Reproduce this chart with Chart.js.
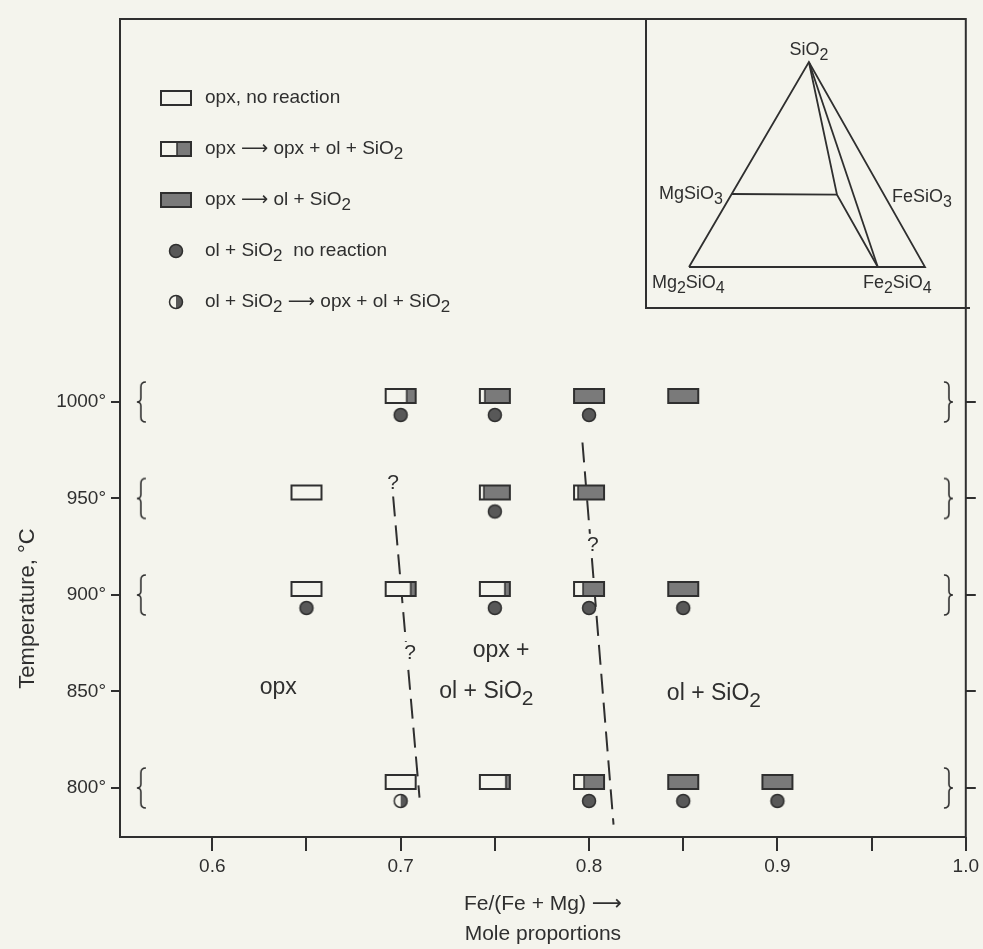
<!DOCTYPE html>
<html><head><meta charset="utf-8">
<script src="https://cdn.jsdelivr.net/npm/chart.js@4.4.1/dist/chart.umd.min.js"></script>
<style>
html,body{margin:0;padding:0;background:#f4f4ed;}
#wrap{position:relative;width:983px;height:949px;overflow:hidden;}
canvas{position:absolute;left:0;top:0;}
#inset{left:645px;top:19px;}
</style></head><body>
<div id="wrap"><canvas id="main" width="983" height="949"></canvas><canvas id="inset" width="325" height="290"></canvas></div>
<script>
// ---------------- data ----------------
const xTickValues = [0.6, 0.65, 0.7, 0.75, 0.8, 0.85, 0.9, 0.95, 1.0];
const xTickLabels = ['0.6', '', '0.7', '', '0.8', '', '0.9', '', '1.0'];
const yTickValues = [800, 850, 900, 950, 1000];
const yTickLabels = ['800°', '850°', '900°', '950°', '1000°'];

const legendLabels = [
  'opx, no reaction',
  'opx ⟶ opx + ol + SiO_2',
  'opx ⟶ ol + SiO_2',
  'ol + SiO_2  no reaction',
  'ol + SiO_2 ⟶ opx + ol + SiO_2'
];

// opx starting material, no reaction
const openRectX = [0.65, 0.65, 0.70];
const openRectT = [950, 900, 800];
// opx -> opx + ol + SiO2 (fraction reacted shown shaded)
const partRectX = [0.70, 0.75, 0.75, 0.80, 0.70, 0.75, 0.80, 0.75, 0.80];
const partRectT = [1000, 1000, 950, 950, 900, 900, 900, 800, 800];
const partRectFrac = [0.3, 0.83, 0.85, 0.85, 0.15, 0.18, 0.7, 0.12, 0.68];
// opx -> ol + SiO2
const fullRectX = [0.80, 0.85, 0.85, 0.85, 0.90];
const fullRectT = [1000, 1000, 900, 800, 800];
// ol + SiO2 no reaction
const dotX = [0.70, 0.75, 0.80, 0.75, 0.65, 0.75, 0.80, 0.85, 0.80, 0.85, 0.90];
const dotT = [1000, 1000, 1000, 950, 900, 900, 900, 900, 800, 800, 800];
// ol + SiO2 -> opx + ol + SiO2
const halfDotX = [0.70];
const halfDotT = [800];

// temperature brackets
const bracketTemps = [1000, 950, 900, 800];
const bracketLeftX = 0.5626;
const bracketRightX = 0.9905;

// phase boundaries (dashed)
const boundary1X = [0.696, 0.710];
const boundary1T = [951, 795];
const boundary2X = [0.7965, 0.813];
const boundary2T = [979, 781];

// question marks on boundaries
const qX = [0.696, 0.705, 0.802];
const qT = [958, 870, 926];

// field labels
const regionText = ['opx', 'opx +', 'ol + SiO_2', 'ol + SiO_2'];
const regionX = [0.635, 0.7533, 0.7455, 0.8663];
const regionT = [851.8, 871, 849.7, 848.7];

// inset composition diagram (inset coordinates)
const insetOuterX = [0, 0.508, 1, 0];
const insetOuterY = [0, 1, 0, 0];
const insetTieX = [0.181, 0.627];
const insetTieY = [0.356, 0.353];
const insetOpxX = [0.508, 0.627, 0.80];
const insetOpxY = [1, 0.353, 0];
const insetFaX = [0.508, 0.80];
const insetFaY = [1, 0];
const insetLabelText = ['SiO_2', 'MgSiO_3', 'FeSiO_3', 'Mg_2SiO_4', 'Fe_2SiO_4'];
const insetLabelX = [0.508, 0.144, 0.86, -0.157, 0.737];
const insetLabelY = [1.059, 0.356, 0.341, -0.078, -0.078];
const insetLabelAlign = ['center', 'right', 'left', 'left', 'left'];

// ---------------- style ----------------
const PAPER = '#f4f4ed';
const INK = '#2f2f2f';
const GREY = '#7a7a7a';
const DOTC = '#585858';
const FAMILY = '"Liberation Sans", "DejaVu Sans", Arial, sans-serif';
Chart.defaults.font.family = FAMILY;
Chart.defaults.color = INK;

function fnt(size) { return 'normal ' + size + 'px ' + FAMILY; }
function richParts(s) {
  const out = []; const re = /_(\d)/g; let last = 0, m;
  while ((m = re.exec(s))) {
    if (m.index > last) out.push({ t: s.slice(last, m.index), sub: false });
    out.push({ t: m[1], sub: true }); last = re.lastIndex;
  }
  if (last < s.length) out.push({ t: s.slice(last), sub: false });
  return out;
}
function drawRich(ctx, s, x, y, size, align) {
  const ps = richParts(s); const subSize = Math.round(size * 0.9);
  let total = 0;
  ps.forEach(p => { ctx.font = fnt(p.sub ? subSize : size); p.w = ctx.measureText(p.t).width; total += p.w; });
  let cx = align === 'center' ? x - total / 2 : align === 'right' ? x - total : x;
  ctx.textAlign = 'left'; ctx.textBaseline = 'middle';
  ps.forEach(p => { ctx.font = fnt(p.sub ? subSize : size); ctx.fillText(p.t, cx, p.sub ? y + size * 0.3 : y); cx += p.w; });
  return total;
}

const imgCache = {};
function rectImg(frac, dy) {
  const key = 'r' + frac + '_' + dy; if (imgCache[key]) return imgCache[key];
  const w = 30, h = 14;
  const c = document.createElement('canvas');
  c.width = w + 6; c.height = 2 * (Math.abs(dy) + h / 2) + 6;
  const g = c.getContext('2d');
  const x0 = 3, y0 = Math.round(c.height / 2 + dy - h / 2);
  g.fillStyle = PAPER; g.fillRect(x0, y0, w, h);
  if (frac > 0) { const fw = Math.round(w * frac); g.fillStyle = GREY; g.fillRect(x0 + w - fw, y0, fw, h); }
  g.strokeStyle = INK; g.lineWidth = 2; g.strokeRect(x0, y0, w, h);
  if (frac > 0 && frac < 1) {
    const fx = x0 + w - Math.round(w * frac);
    g.lineWidth = 1.5; g.beginPath(); g.moveTo(fx, y0); g.lineTo(fx, y0 + h); g.stroke();
  }
  imgCache[key] = c; return c;
}
function dotImg(half, dy) {
  const key = 'd' + half + '_' + dy; if (imgCache[key]) return imgCache[key];
  const r = 6.5;
  const c = document.createElement('canvas');
  c.width = 18; c.height = 2 * (Math.abs(dy) + 8) + 4;
  const g = c.getContext('2d');
  const cx = 9, cy = c.height / 2 + dy;
  if (half) {
    g.fillStyle = PAPER; g.beginPath(); g.arc(cx, cy, r, 0, Math.PI * 2); g.fill();
    g.fillStyle = DOTC; g.beginPath(); g.arc(cx, cy, r, -Math.PI / 2, Math.PI / 2); g.closePath(); g.fill();
  } else {
    g.fillStyle = DOTC; g.beginPath(); g.arc(cx, cy, r, 0, Math.PI * 2); g.fill();
  }
  g.strokeStyle = INK; g.lineWidth = 1.5; g.beginPath(); g.arc(cx, cy, r, 0, Math.PI * 2); g.stroke();
  imgCache[key] = c; return c;
}
function bracketImg(right) {
  const key = 'b' + right; if (imgCache[key]) return imgCache[key];
  const c = document.createElement('canvas'); c.width = 14; c.height = 46;
  const g = c.getContext('2d');
  if (right) { g.translate(14, 0); g.scale(-1, 1); }
  g.strokeStyle = INK; g.lineWidth = 1.6; g.beginPath();
  g.moveTo(11, 3); g.quadraticCurveTo(6, 3, 6, 8); g.lineTo(6, 19);
  g.quadraticCurveTo(6, 23, 2, 23); g.quadraticCurveTo(6, 23, 6, 27);
  g.lineTo(6, 38); g.quadraticCurveTo(6, 43, 11, 43); g.stroke();
  imgCache[key] = c; return c;
}
function pts(xs, ys) { return xs.map((x, i) => ({ x: x, y: ys[i] })); }

// ---------------- plugins ----------------
const framePlugin = {
  id: 'frame',
  afterDraw(chart) {
    const { ctx, chartArea: a } = chart;
    ctx.save(); ctx.strokeStyle = INK; ctx.lineWidth = 2;
    ctx.strokeRect(a.left, a.top, a.right - a.left, a.bottom - a.top);
    ctx.restore();
  }
};
const annotPlugin = {
  id: 'annot',
  afterDatasetsDraw(chart) {
    const { ctx } = chart; const xs = chart.scales.x, ys = chart.scales.y;
    ctx.save(); ctx.fillStyle = INK;
    regionText.forEach((t, i) => drawRich(ctx, t, xs.getPixelForValue(regionX[i]), ys.getPixelForValue(regionT[i]), 23, 'center'));
    qX.forEach((x, i) => {
      const px = xs.getPixelForValue(x), py = ys.getPixelForValue(qT[i]);
      ctx.fillStyle = PAPER; ctx.fillRect(px - 7, py - 11, 14, 22);
      ctx.fillStyle = INK; drawRich(ctx, '?', px, py, 21, 'center');
    });
    ctx.restore();
  },
  afterDraw(chart) {
    const { ctx, chartArea } = chart; const ys = chart.scales.y;
    ctx.save(); ctx.fillStyle = INK;
    // y axis title
    ctx.translate(28, ys.getPixelForValue(893)); ctx.rotate(-Math.PI / 2);
    drawRich(ctx, 'Temperature, °C', 0, 0, 22, 'center');
    ctx.restore();
    // legend
    const LEG = { top: 79, step: 51, markerX: 56, textX: 85, size: 19 };
    ctx.save(); ctx.fillStyle = INK;
    chart.data.datasets.filter(d => d.legendMarker).forEach((d, i) => {
      const y = chartArea.top + LEG.top + i * LEG.step; const m = d.legendMarker;
      ctx.drawImage(m, Math.round(chartArea.left + LEG.markerX - m.width / 2), Math.round(y - m.height / 2));
      ctx.fillStyle = INK;
      drawRich(ctx, d.label, chartArea.left + LEG.textX, y, LEG.size, 'left');
    });
    ctx.restore();
  }
};

// ---------------- main chart ----------------
const imgPoint = { pointRadius: 6, pointHoverRadius: 6, showLine: false };
const lineCommon = { showLine: true, borderColor: INK, borderWidth: 2, borderDash: [20, 9], pointRadius: 0, fill: false, tension: 0 };

new Chart(document.getElementById('main'), {
  type: 'scatter',
  data: {
    datasets: [
      Object.assign({ label: legendLabels[0], data: pts(openRectX, openRectT), pointStyle: rectImg(0, -6), legendMarker: rectImg(0, 0) }, imgPoint),
      Object.assign({ label: legendLabels[1], data: pts(partRectX, partRectT), pointStyle: ctx => rectImg(partRectFrac[ctx.dataIndex], -6), legendMarker: rectImg(0.45, 0) }, imgPoint),
      Object.assign({ label: legendLabels[2], data: pts(fullRectX, fullRectT), pointStyle: rectImg(1, -6), legendMarker: rectImg(1, 0) }, imgPoint),
      Object.assign({ label: legendLabels[3], data: pts(dotX, dotT), pointStyle: dotImg(false, 13), legendMarker: dotImg(false, 0) }, imgPoint),
      Object.assign({ label: legendLabels[4], data: pts(halfDotX, halfDotT), pointStyle: dotImg(true, 13), legendMarker: dotImg(true, 0) }, imgPoint),
      Object.assign({ label: 'brackets low', data: bracketTemps.map(t => ({ x: bracketLeftX, y: t })), pointStyle: bracketImg(false) }, imgPoint),
      Object.assign({ label: 'brackets high', data: bracketTemps.map(t => ({ x: bracketRightX, y: t })), pointStyle: bracketImg(true) }, imgPoint),
      Object.assign({ label: 'opx / opx+ol+SiO2', data: pts(boundary1X, boundary1T) }, lineCommon),
      Object.assign({ label: 'opx+ol+SiO2 / ol+SiO2', data: pts(boundary2X, boundary2T) }, lineCommon)
    ]
  },
  options: {
    responsive: false, devicePixelRatio: 1, animation: false, events: [],
    layout: { padding: { top: 19, left: 0, right: 0, bottom: 0 }, autoPadding: false },
    plugins: { legend: { display: false }, tooltip: { enabled: false } },
    scales: {
      x: {
        type: 'linear', position: 'bottom', min: 0.551, max: 1.0,
        afterFit: s => { s.height = 112; },
        afterBuildTicks: s => { s.ticks = xTickValues.map(v => ({ value: v })); },
        ticks: { callback: (v, i) => xTickLabels[i], font: { size: 19 }, color: INK, padding: 4, maxRotation: 0, autoSkip: false },
        grid: { display: true, drawOnChartArea: false, drawTicks: true, tickLength: 14, color: INK, lineWidth: 2 },
        border: { display: false },
        title: { display: true, text: ['Fe/(Fe + Mg) ⟶', 'Mole proportions'], font: { size: 21, lineHeight: 1.43 }, color: INK, padding: { top: 0, bottom: 0 } }
      },
      y: {
        type: 'linear', position: 'left', min: 774.6, max: 1198.4,
        afterFit: s => { s.width = 120; },
        afterBuildTicks: s => { s.ticks = yTickValues.map(v => ({ value: v })); },
        ticks: { callback: (v, i) => yTickLabels[i], font: { size: 19 }, color: INK, padding: 5, autoSkip: false },
        grid: { display: true, drawOnChartArea: false, drawTicks: true, tickLength: 9, color: INK, lineWidth: 2 },
        border: { display: false }
      },
      y2: {
        type: 'linear', position: 'right', min: 774.6, max: 1198.4,
        afterFit: s => { s.width = 13; },
        afterBuildTicks: s => { s.ticks = yTickValues.map(v => ({ value: v })); },
        ticks: { display: false },
        grid: { display: true, drawOnChartArea: false, drawTicks: true, tickLength: 10, color: INK, lineWidth: 2 },
        border: { display: false }
      }
    }
  },
  plugins: [framePlugin, annotPlugin]
});

// ---------------- inset chart ----------------
const insetLine = { showLine: true, borderColor: INK, borderWidth: 1.8, pointRadius: 0, fill: false, tension: 0 };
const insetPlugin = {
  id: 'insetDecor',
  afterDraw(chart) {
    const { ctx, chartArea: a } = chart; const xs = chart.scales.x, ys = chart.scales.y;
    ctx.save(); ctx.strokeStyle = INK; ctx.lineWidth = 2;
    // left and bottom edges of the inset box (top/right are shared with the main frame)
    ctx.beginPath(); ctx.moveTo(a.left + 1, a.top); ctx.lineTo(a.left + 1, a.bottom - 1); ctx.lineTo(a.right, a.bottom - 1); ctx.stroke();
    ctx.fillStyle = INK;
    insetLabelText.forEach((t, i) => drawRich(ctx, t, xs.getPixelForValue(insetLabelX[i]), ys.getPixelForValue(insetLabelY[i]), 18, insetLabelAlign[i]));
    ctx.restore();
  }
};
new Chart(document.getElementById('inset'), {
  type: 'scatter',
  data: {
    datasets: [
      Object.assign({ label: 'outline', data: pts(insetOuterX, insetOuterY) }, insetLine),
      Object.assign({ label: 'opx tie', data: pts(insetTieX, insetTieY) }, insetLine),
      Object.assign({ label: 'opx limit', data: pts(insetOpxX, insetOpxY) }, insetLine),
      Object.assign({ label: 'fayalite join', data: pts(insetFaX, insetFaY) }, insetLine)
    ]
  },
  options: {
    responsive: false, devicePixelRatio: 1, animation: false, events: [],
    layout: { padding: 0, autoPadding: false },
    plugins: { legend: { display: false }, tooltip: { enabled: false } },
    scales: {
      x: { type: 'linear', display: false, min: -0.18644, max: 1.19068 },
      y: { type: 'linear', display: false, min: -0.20488, max: 1.20976 }
    }
  },
  plugins: [insetPlugin]
});
</script>
</body></html>
